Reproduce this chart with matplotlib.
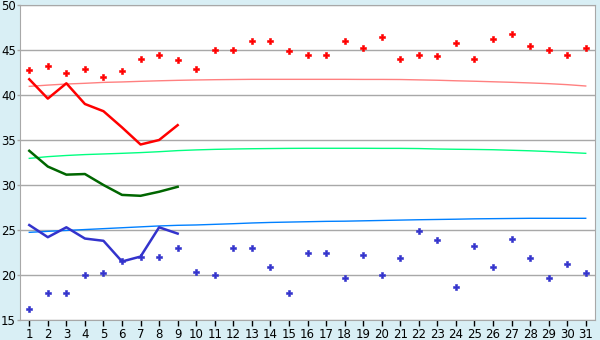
import numpy as np
import matplotlib.pyplot as plt

dias = list(range(1, 32))

pontos_vermelhos = [42.75, 43.2, 42.4, 42.85, 41.95, 42.65, 43.95, 44.4, 43.85, 42.85,
                    44.95, 44.95, 45.95, 46.05, 44.85, 44.4, 44.5, 45.95, 45.2, 46.4,
                    44.05, 44.4, 44.3, 45.75, 44.05, 46.2, 46.75, 45.4, 44.95, 44.4, 45.2]
linha_vermelha = [41.75, 39.6, 41.3, 39.0, 38.2, 36.4, 34.5, 35.0, 36.65]
tend_vermelha = [40.96, 41.1, 41.22, 41.3, 41.4, 41.45, 41.52, 41.58, 41.63, 41.67,
                 41.7, 41.72, 41.74, 41.74, 41.74, 41.74, 41.74, 41.74, 41.73, 41.73,
                 41.72, 41.68, 41.64, 41.58, 41.53, 41.47, 41.41, 41.34, 41.26, 41.15, 41.0]

linha_verde = [33.8, 32.05, 31.15, 31.22, 30.0, 28.9, 28.8, 29.25, 29.8]
tend_verde = [32.96, 33.15, 33.28, 33.38, 33.45, 33.52, 33.6, 33.7, 33.82, 33.9,
              33.96, 34.0, 34.03, 34.05, 34.07, 34.08, 34.08, 34.08, 34.08, 34.07,
              34.07, 34.05, 34.0, 33.97, 33.95, 33.92, 33.86, 33.8, 33.72, 33.62, 33.52]

pontos_azuis = [16.2, 17.95, 18.0, 19.95, 20.2, 21.6, 21.95, 21.95, 22.95, 20.3,
                19.95, 22.95, 22.95, 20.85, 18.05, 22.4, 22.4, 19.65, 22.2, 19.95,
                21.85, 24.85, 23.85, 18.65, 23.2, 20.85, 23.95, 21.85, 19.65, 21.2, 20.2]
linha_azul = [25.55, 24.2, 25.3, 24.05, 23.8, 21.5, 22.05, 25.3, 24.6]
tend_azul = [24.74, 24.85, 24.95, 25.05, 25.15, 25.25, 25.35, 25.45, 25.52, 25.56,
             25.63, 25.7, 25.78, 25.84, 25.88, 25.92, 25.96, 25.98, 26.02, 26.06,
             26.1, 26.14, 26.17, 26.2, 26.24, 26.26, 26.28, 26.3, 26.3, 26.3, 26.3]

fundo = '#d9eff5'
fig = plt.figure(figsize=(6, 3.4), dpi=100, facecolor=fundo)
ax = fig.add_axes([20/600, 20/340, 575/600, 315/340])
ax.set_facecolor('white')

x9 = dias[:9]
ax.plot(dias, tend_vermelha, color='#ff8080', linewidth=1)
ax.plot(dias, tend_verde, color='#00ff80', linewidth=1)
ax.plot(dias, tend_azul, color='#0080ff', linewidth=1)
ax.plot(x9, linha_vermelha, color='#ff0000', linewidth=1.8)
ax.plot(x9, linha_verde, color='#006600', linewidth=1.8)
ax.plot(x9, linha_azul, color='#3333cc', linewidth=1.8)
ax.plot(dias, pontos_vermelhos, 'P', color='#ff0000', markersize=4.6,
        markeredgewidth=0.4, markeredgecolor='#ff0000')
ax.plot(dias, pontos_azuis, 'P', color='#3333cc', markersize=4.6,
        markeredgewidth=0.4, markeredgecolor='#3333cc')

ax.set_xlim(0.5, 31.5)
ax.set_ylim(15, 50)
ax.set_xticks(dias)
ax.set_yticks(range(15, 51, 5))
ax.grid(axis='y', color='#a8a8a8', linewidth=1)
ax.set_axisbelow(True)
for s in ax.spines.values():
    s.set_color('#a8a8a8')
ax.tick_params(axis='x', length=4, width=1, color='black', labelsize=8.5, pad=2)
ax.tick_params(axis='y', length=2, width=1, color='#a8a8a8', labelsize=8.5, pad=1)

fig.savefig('out.png', dpi=100, facecolor=fundo)
